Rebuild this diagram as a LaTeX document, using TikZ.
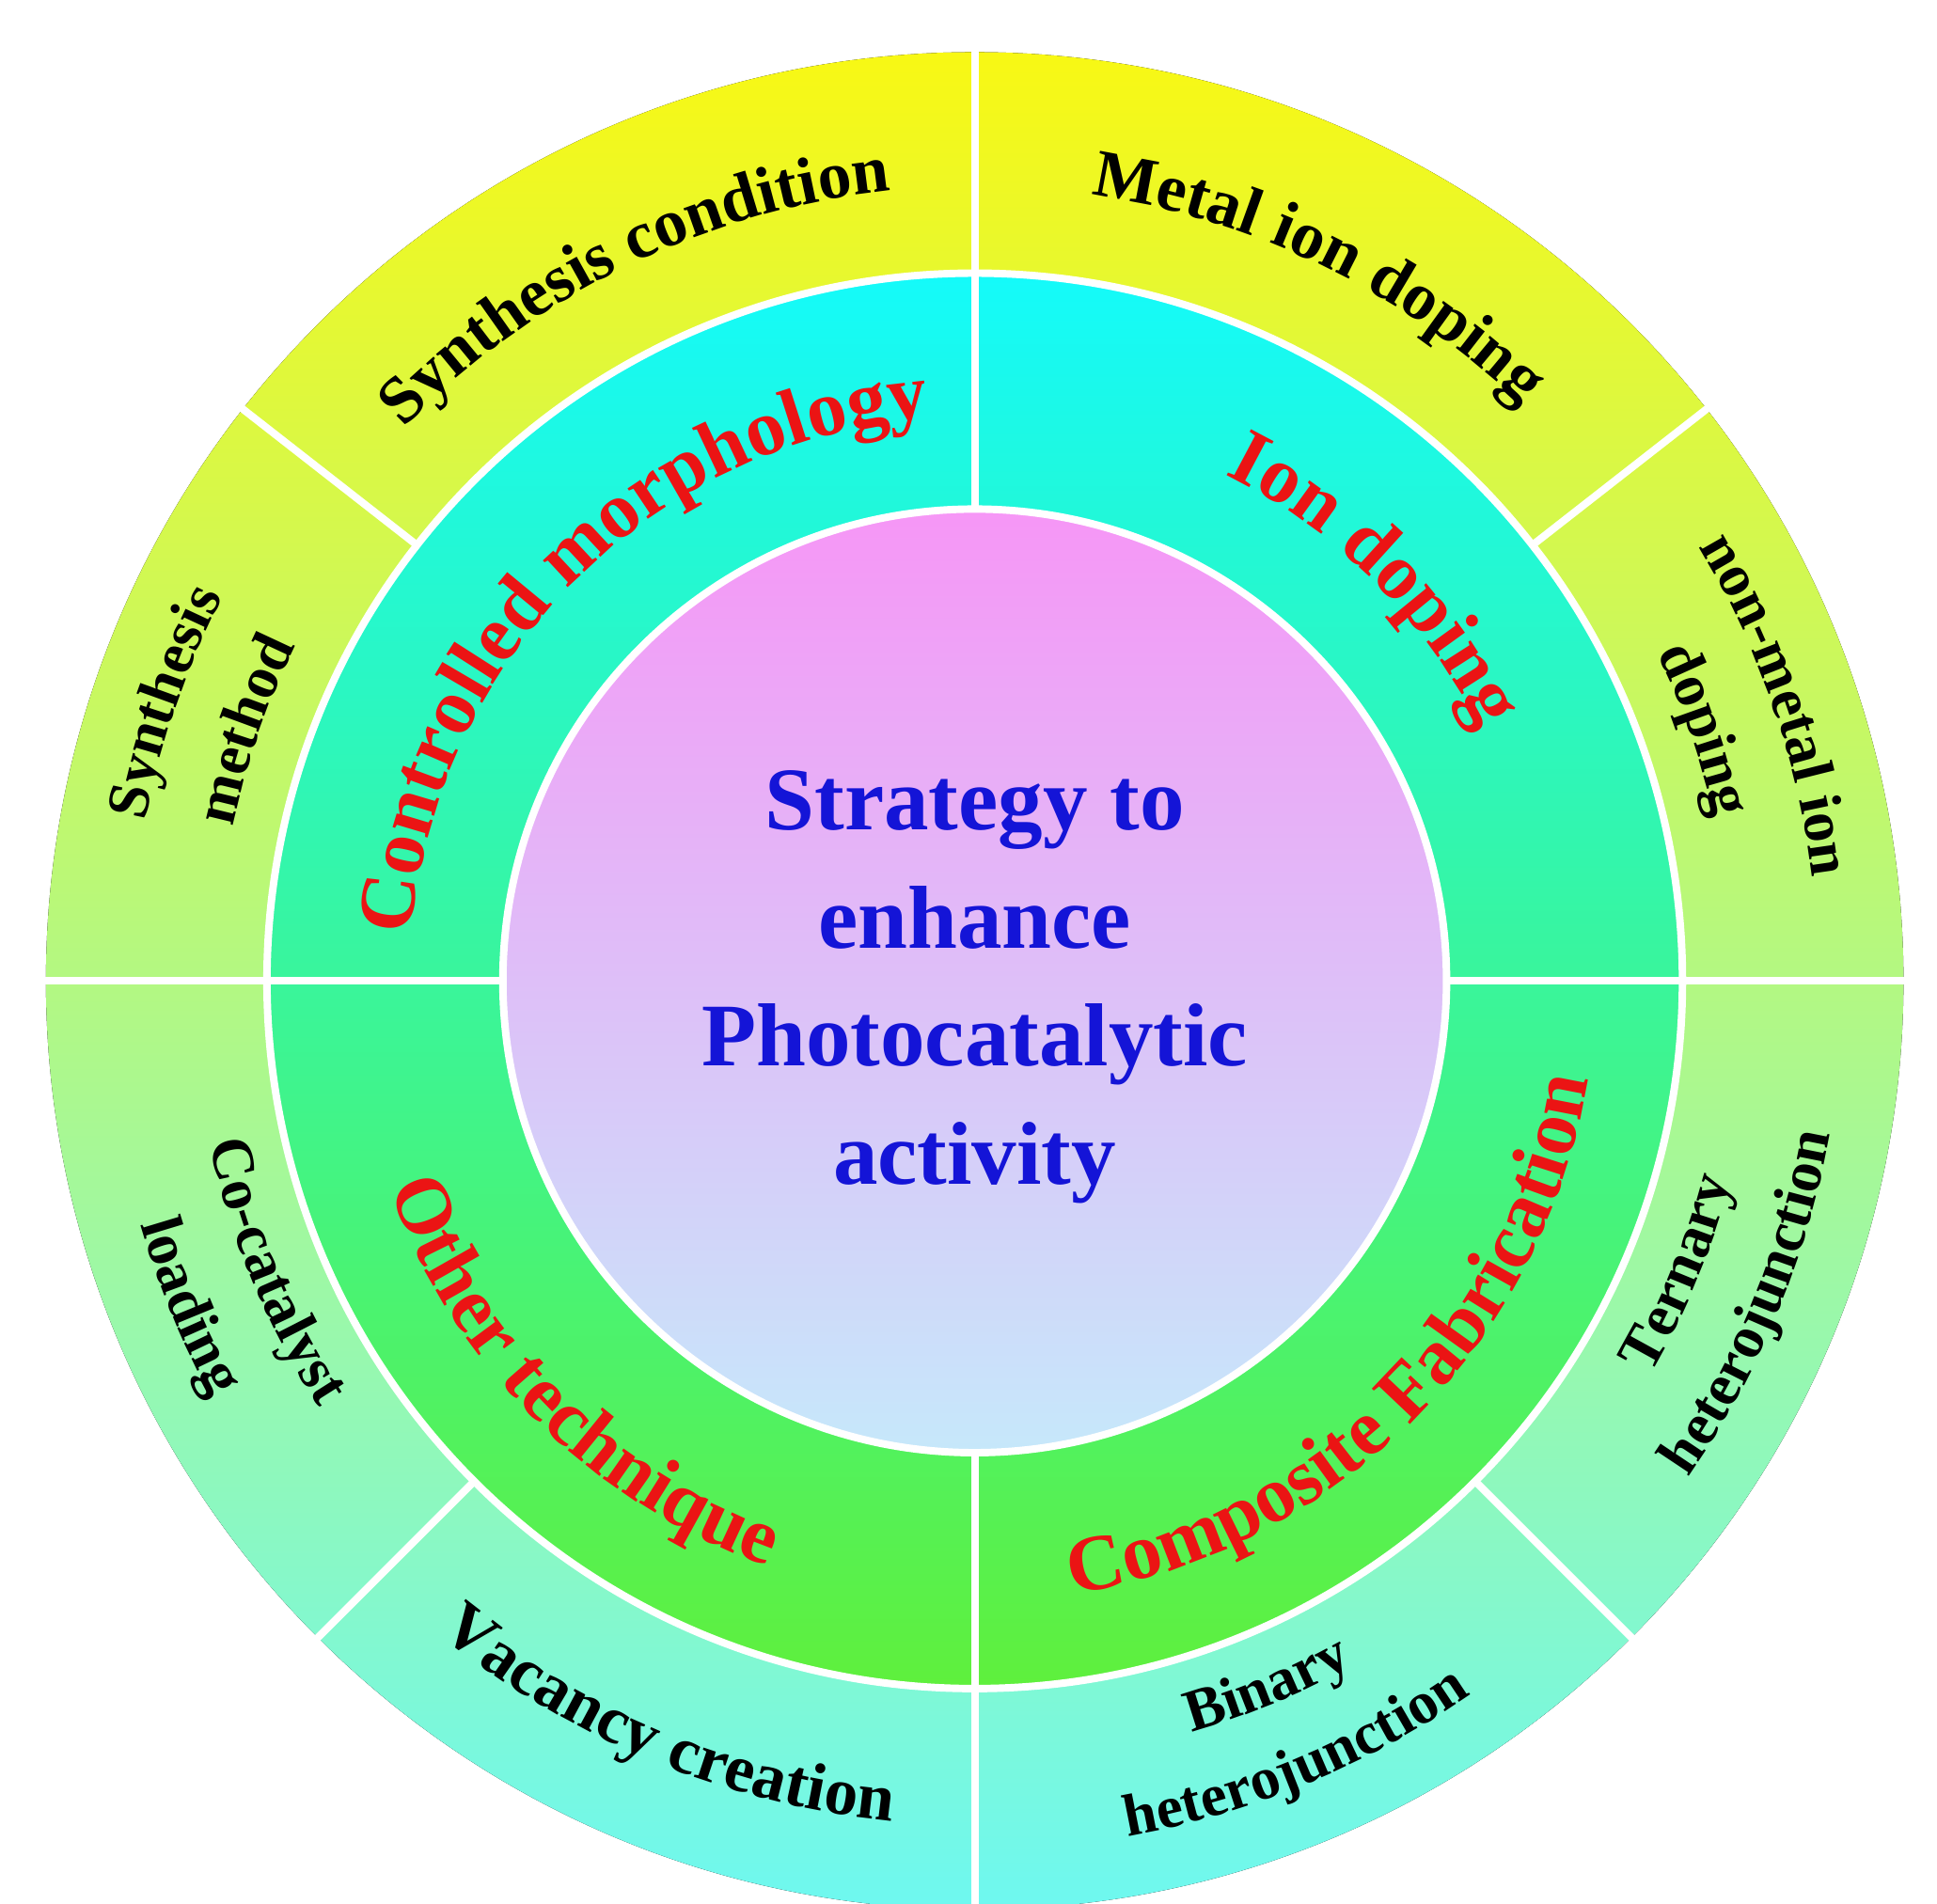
\documentclass[tikz,border=0pt]{standalone}
\usepackage{fontspec}
\setmainfont{Liberation Serif}
\usetikzlibrary{decorations.text}
\definecolor{ylw}{RGB}{248,248,20}
\definecolor{ygr}{RGB}{190,245,90}
\definecolor{cyo}{RGB}{110,248,240}
\definecolor{cyt}{RGB}{20,250,250}
\definecolor{tea}{RGB}{70,238,200}
\definecolor{grn}{RGB}{95,240,60}
\definecolor{pnk}{RGB}{246,150,246}
\definecolor{lbl}{RGB}{198,232,250}
\definecolor{redt}{RGB}{235,20,20}
\definecolor{blut}{RGB}{20,20,215}
\newcommand\cwtxt[5]{% radius, start, end, size, text (clockwise)
  \path[decorate,decoration={text along path,text align=center,
    text format delimiters={|}{|},
    text={|\fontsize{#4}{#4}\selectfont\bfseries|#5}}]
    (#2:#1) arc[start angle=#2,end angle=#3,radius=#1];}
\newcommand\cwred[5]{%
  \path[decorate,decoration={text along path,text align=center,
    text format delimiters={|}{|},
    text={|\fontsize{#4}{#4}\selectfont\bfseries\color{redt}|#5}}]
    (#2:#1) arc[start angle=#2,end angle=#3,radius=#1];}
\begin{document}
\begin{tikzpicture}[x=1pt,y=1pt]
\useasboundingbox (-785,-743) rectangle (775,790);
\fill[top color=ylw,middle color=ygr,bottom color=cyo] (0,0) circle (748);
\fill[top color=cyt,middle color=tea,bottom color=grn] (0,0) circle (570);
\fill[top color=pnk,bottom color=lbl] (0,0) circle (380);
\draw[white,line width=6] (0,0) circle (570) (0,0) circle (380);
\foreach \a in {0,90,180,270} \draw[white,line width=6] (\a:380) -- (\a:752);
\foreach \a in {38,142,225,315} \draw[white,line width=6] (\a:570) -- (\a:752);
% outer ring texts
\cwtxt{640}{142}{90}{54}{Synthesis condition}
\cwtxt{640}{90}{38}{54}{Metal ion doping}
\cwtxt{680}{38}{0}{48}{non-metal ion}
\cwtxt{610}{38}{0}{48}{doping}
\cwtxt{680}{180}{142}{48}{Synthesis}
\cwtxt{610}{180}{142}{48}{method}
\cwtxt{630}{180}{225}{48}{Co-catalyst}
\cwtxt{700}{180}{225}{48}{loading}
\cwtxt{680}{225}{270}{54}{Vacancy creation}
\cwtxt{630}{270}{315}{48}{Binary}
\cwtxt{700}{270}{315}{48}{heterojunction}
\cwtxt{630}{315}{360}{48}{Ternary}
\cwtxt{700}{315}{360}{48}{heterojunction}
% middle ring texts
\cwred{455}{180}{90}{64}{Controlled morphology}
\cwred{455}{90}{0}{64}{Ion doping}
\cwred{500}{180}{270}{64}{Other technique}
\cwred{500}{270}{360}{64}{Composite Fabrication}
\node[align=center,text=blut,font=\fontsize{72}{95}\selectfont\bfseries] (c) at (0,-5)
  {Strategy to\\enhance\\Photocatalytic\\activity};
\end{tikzpicture}
\end{document}
